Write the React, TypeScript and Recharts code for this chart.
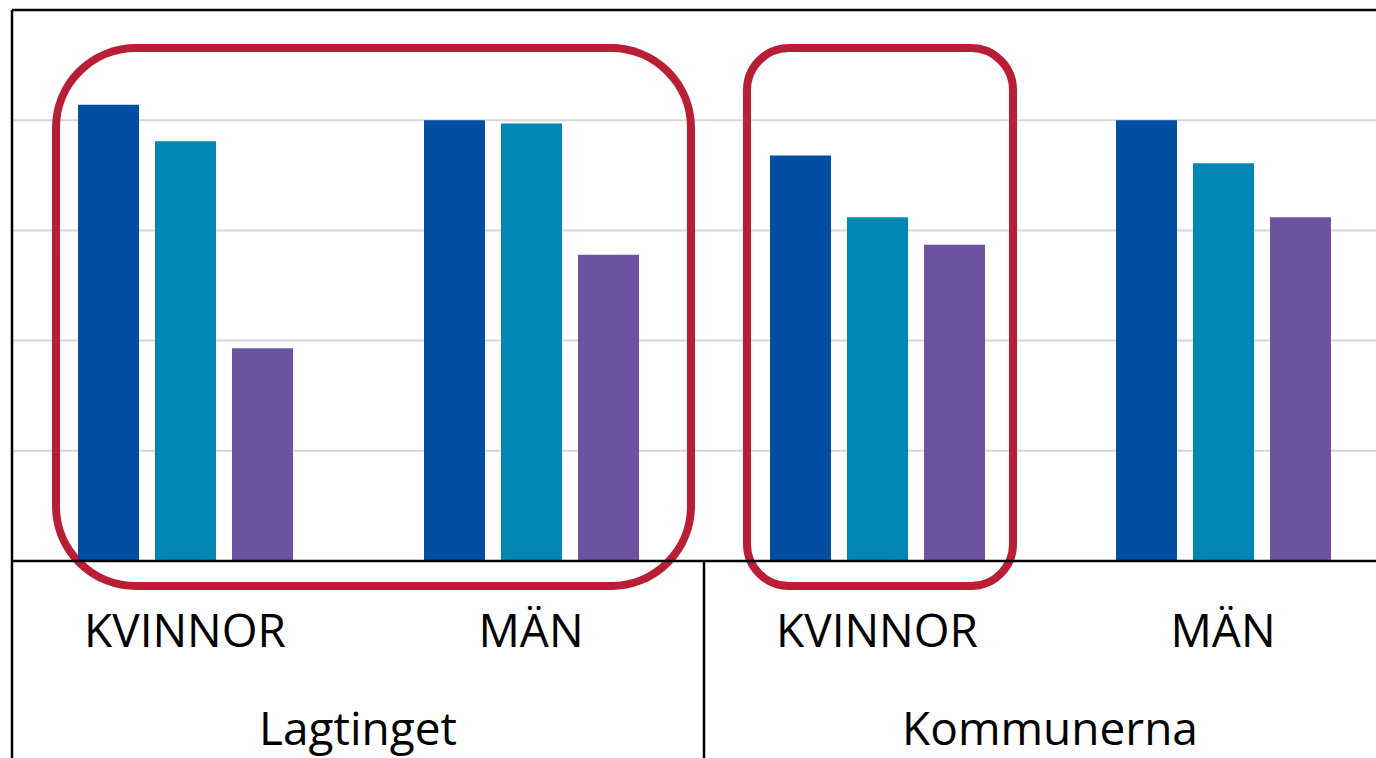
import {
  BarChart,
  Bar,
  XAxis,
  YAxis,
  CartesianGrid,
  ReferenceLine,
  ReferenceArea,
} from "recharts";

const groups = ["Lagtinget", "Lagtinget", "Kommunerna", "Kommunerna"];
const sexes = ["KVINNOR", "MÄN", "KVINNOR", "MÄN"];
const seriesA = [4.14, 4.0, 3.68, 4.0];
const seriesB = [3.81, 3.97, 3.12, 3.61];
const seriesC = [1.93, 2.78, 2.87, 3.12];
const yTicks = [0, 1, 2, 3, 4, 5];

const data = sexes.map((s, i) => ({
  key: `${groups[i]} ${s}`,
  sex: s,
  group: groups[i],
  a: seriesA[i],
  b: seriesB[i],
  c: seriesC[i],
}));

const W = 1400;
const H = 758;
const M = { top: 10, right: 4, left: 12, bottom: 0 };
const SEX_H = 100;
const GROUP_H = 97;
const PLOT_H = H - M.top - M.bottom - SEX_H - GROUP_H;
const BAND = (W - M.left - M.right) / sexes.length;
const FONT = "'Open Sans', sans-serif";
const RED = "#B81F36";

function SexTick(props: any) {
  const { x, y, payload } = props;
  const label = String(payload.value).split(" ").slice(1).join(" ");
  return (
    <text x={x} y={y + 86} textAnchor="middle" fontSize={46} fontFamily={FONT} fill="#000">
      {label}
    </text>
  );
}

function GroupTick(props: any) {
  const { x, y, payload, index } = props;
  const half = BAND;
  return (
    <g>
      <text x={x} y={y + 84} textAnchor="middle" fontSize={46} fontFamily={FONT} fill="#000">
        {payload.value}
      </text>
      {index === 0 && (
        <line
          x1={x - half}
          x2={x - half}
          y1={y - SEX_H - PLOT_H}
          y2={y + GROUP_H}
          stroke="#000"
          strokeWidth={2.5}
        />
      )}
      <line x1={x + half} x2={x + half} y1={y - SEX_H} y2={y + GROUP_H} stroke="#000" strokeWidth={2.5} />
    </g>
  );
}

const frame = (insetL: number, insetR: number, r: number) => (p: any) => (
  <rect
    x={p.x + insetL}
    y={p.y}
    width={p.width - insetL - insetR}
    height={p.height}
    rx={r}
    ry={r}
    fill="none"
    stroke={RED}
    strokeWidth={8}
  />
);

export default function App() {
  return (
    <div
      style={{
        position: "fixed",
        top: 0,
        left: 0,
        width: 1376,
        height: 758,
        overflow: "hidden",
        background: "#fff",
      }}
    >
      <BarChart
        width={W}
        height={H}
        data={data}
        margin={M}
        barCategoryGap={66}
        barGap={16}
      >
        <CartesianGrid vertical={false} stroke="#d6d6d6" strokeWidth={2} />
        <XAxis
          dataKey="key"
          height={SEX_H}
          tick={<SexTick />}
          tickLine={false}
          tickSize={0}
          tickMargin={0}
          axisLine={{ stroke: "#000", strokeWidth: 2.5 }}
          interval={0}
        />
        <XAxis
          xAxisId="group"
          dataKey="group"
          allowDuplicatedCategory={false}
          height={GROUP_H}
          tick={<GroupTick />}
          tickLine={false}
          tickSize={0}
          tickMargin={0}
          axisLine={false}
          interval={0}
        />
        <YAxis
          width={0}
          domain={[0, 5]}
          ticks={yTicks}
          interval={0}
          tick={() => <g />}
          tickLine={false}
          axisLine={false}
        />
        <ReferenceArea
          x1="Lagtinget KVINNOR"
          x2="Lagtinget MÄN"
          y1={-0.227}
          y2={4.655}
          ifOverflow="visible"
          shape={frame(44, 13, 80)}
        />
        <ReferenceArea
          x1="Kommunerna KVINNOR"
          x2="Kommunerna KVINNOR"
          y1={-0.227}
          y2={4.655}
          ifOverflow="visible"
          shape={frame(43, 37, 42)}
        />
        <Bar dataKey="a" fill="#034EA2" isAnimationActive={false} />
        <Bar dataKey="b" fill="#0087B3" isAnimationActive={false} />
        <Bar dataKey="c" fill="#6D52A1" isAnimationActive={false} />
        <ReferenceLine y={5} stroke="#000" strokeWidth={2.5} />
      </BarChart>
    </div>
  );
}
